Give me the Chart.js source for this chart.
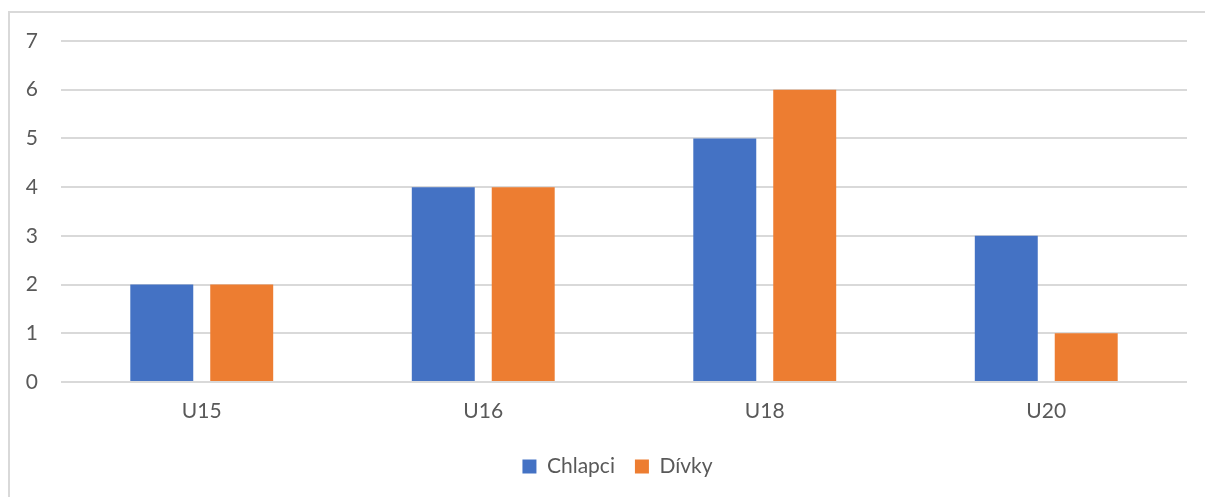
<!DOCTYPE html>
<html>
<head>
<meta charset="utf-8">
<script src="https://cdn.jsdelivr.net/npm/chart.js@4/dist/chart.umd.min.js"></script>
<style>
  html, body { margin: 0; padding: 0; background: #ffffff; overflow: hidden; }
  #frame {
    position: absolute; left: 8px; top: 11px;
    width: 1300px; height: 600px;
    border: 2px solid #d9d9d9; box-sizing: border-box;
  }
  #wrap { position: absolute; left: 0; top: 0; width: 1205px; height: 497px; }
</style>
</head>
<body>
<div id="frame"></div>
<div id="wrap"><canvas id="chart" width="1205" height="497"></canvas></div>
<script>
// Age categories and counts per group
const categories = ['U15', 'U16', 'U18', 'U20'];
const chlapci = [2, 4, 5, 3];
const divky = [2, 4, 6, 1];
const yTicks = [0, 1, 2, 3, 4, 5, 6, 7];

const textColor = '#595959';
const fontFamily = 'Lato, "Liberation Sans", sans-serif';
const fontSize = 21;

// The chart frame runs past the right edge of the window, so the legend is
// centred on the frame rather than on the canvas: nudge its box to the right.
const legendShift = {
  id: 'legendShift',
  afterLayout(chart) {
    const lg = chart.legend;
    if (lg) { lg.left += 24; lg.right += 24; }
  }
};

new Chart(document.getElementById('chart'), {
  type: 'bar',
  data: {
    labels: categories,
    datasets: [
      { label: 'Chlapci', data: chlapci, backgroundColor: '#4472C4', borderWidth: 0 },
      { label: 'Dívky', data: divky, backgroundColor: '#ED7D31', borderWidth: 0 }
    ]
  },
  plugins: [legendShift],
  options: {
    responsive: false,
    animation: false,
    devicePixelRatio: 1,
    categoryPercentage: 0.568,
    barPercentage: 0.7875,
    layout: { padding: { left: 0, right: 18, top: 41, bottom: 10 } },
    plugins: {
      tooltip: { enabled: false },
      legend: {
        position: 'bottom',
        labels: {
          boxWidth: 14, boxHeight: 14, padding: 20,
          color: textColor,
          font: { family: fontFamily, size: fontSize }
        }
      }
    },
    scales: {
      x: {
        grid: { display: false, drawTicks: false },
        border: { display: false },
        ticks: { color: textColor, padding: 17, font: { family: fontFamily, size: fontSize } },
        afterFit: s => { s.height = 54; }
      },
      y: {
        min: 0, max: 7,
        afterBuildTicks: s => { s.ticks = yTicks.map(v => ({ value: v })); },
        grid: { color: '#d9d9d9', lineWidth: 2, drawTicks: false },
        border: { display: false },
        ticks: { color: textColor, padding: 23, font: { family: fontFamily, size: fontSize } },
        afterFit: s => { s.width = 61; }
      }
    }
  }
});
</script>
</body>
</html>
